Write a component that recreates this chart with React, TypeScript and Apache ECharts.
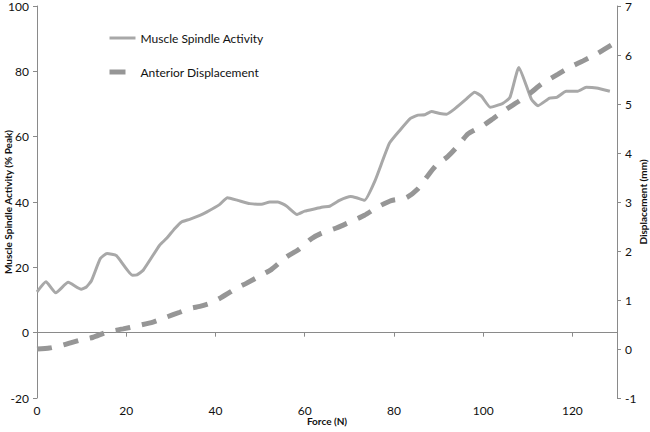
import React, { useEffect, useRef } from "react";
import * as echarts from "echarts";

const xTicks = [0, 20, 40, 60, 80, 100, 120];

const spindleForce = [0, 2, 4.2, 7, 9.9, 11, 12.2, 14.2, 15.7, 17.8, 21.4, 22.4, 23.8, 27.5, 29, 30.9, 32.4, 34.2, 36.5, 38, 40.9, 42.7, 45, 47.7, 50.3, 52.2, 54, 55.9, 58.3, 60, 62.6, 64.1, 65.6, 67.8, 70.3, 71.6, 73.4, 75.7, 79, 81.3, 83.7, 85.4, 86.9, 88.4, 90.3, 91.8, 93.6, 96.2, 98.1, 99.6, 101.6, 104.4, 106, 108, 110.8, 112.3, 114.9, 116.5, 118.6, 121.2, 123.1, 125.4, 128.4];
const spindleActivity = [12.5, 15.6, 12.2, 15.4, 13.3, 13.9, 15.9, 22.7, 24.2, 23.6, 17.6, 17.7, 19.1, 26.8, 28.8, 31.9, 33.9, 34.7, 35.9, 36.9, 39.2, 41.3, 40.5, 39.5, 39.3, 40, 40, 38.8, 36.2, 37.2, 38, 38.5, 38.7, 40.5, 41.7, 41.3, 40.5, 46.3, 58, 61.9, 65.6, 66.6, 66.7, 67.7, 67.1, 66.9, 68.5, 71.5, 73.6, 72.4, 69, 70.2, 72, 81.2, 71.5, 69.5, 71.8, 72, 73.9, 73.9, 75.1, 74.9, 73.9];

const dispForce = [0, 2.8, 5.8, 9.6, 12.6, 15.5, 19.3, 22.3, 26, 29, 32, 34.3, 36.5, 38.7, 40.9, 44.7, 46.9, 50.3, 52.5, 55.9, 58.5, 61.5, 63.7, 67.1, 70.1, 73.4, 76.4, 79.4, 82.8, 85.4, 87.3, 89.5, 92.1, 94.4, 96.6, 100, 102.2, 105.3, 107.9, 110.8, 113.1, 116.8, 119.4, 122.4, 125.4, 128.7];
const displacement = [0, 0.02, 0.08, 0.18, 0.24, 0.34, 0.41, 0.47, 0.55, 0.65, 0.75, 0.83, 0.87, 0.93, 1.03, 1.24, 1.34, 1.51, 1.62, 1.88, 2.02, 2.25, 2.36, 2.47, 2.59, 2.73, 2.9, 3.03, 3.09, 3.27, 3.5, 3.75, 3.93, 4.15, 4.39, 4.56, 4.7, 4.9, 5.05, 5.24, 5.41, 5.61, 5.75, 5.88, 6.02, 6.2];

const FONT = "Lato, 'Open Sans', sans-serif";

export default function App() {
  const ref = useRef<HTMLDivElement>(null);
  useEffect(() => {
    if (!ref.current) return;
    const chart = echarts.init(ref.current, undefined, { renderer: "svg" });
    const axisLine = { show: true, lineStyle: { color: "#8a8a8a", width: 1 } };
    const axisTick = { show: true, inside: false, length: 4, lineStyle: { color: "#8a8a8a" } };
    const label = { color: "#111", fontFamily: FONT, fontSize: 12 };
    const nameStyle = { color: "#111", fontFamily: FONT, fontSize: 10, fontWeight: "bold" as const };
    chart.setOption({
      animation: false,
      backgroundColor: "#fff",
      textStyle: { fontFamily: FONT },
      grid: { left: 37, right: 33, top: 6, bottom: 34, containLabel: false, outerBoundsMode: "none" },
      legend: {
        orient: "vertical",
        left: 107,
        top: 32,
        padding: 0,
        itemWidth: 26,
        itemHeight: 10,
        itemGap: 22,
        itemStyle: { opacity: 0 },
        textStyle: { color: "#111", fontFamily: FONT, fontSize: 12 },
        data: [
          { name: "Muscle Spindle Activity", lineStyle: { width: 3, color: "#a8a8a8" } },
          { name: "Anterior Displacement", lineStyle: { width: 5, color: "#969696", type: [16, 20] } },
        ],
      },
      xAxis: {
        type: "value",
        min: 0,
        max: 130,
        interval: 20,
        name: "Force (N)",
        nameLocation: "middle",
        nameGap: 18,
        nameMoveOverlap: false,
        nameTextStyle: nameStyle,
        axisLine,
        axisTick,
        splitLine: { show: false },
        axisLabel: {
          ...label,
          margin: 6,
          formatter: (v: number) => (xTicks.includes(v) ? String(v) : ""),
        },
      },
      yAxis: [
        {
          type: "value",
          min: -20,
          max: 100,
          interval: 20,
          name: "Muscle Spindle Activity (% Peak)",
          nameLocation: "middle",
          nameGap: 24,
          nameMoveOverlap: false,
          nameRotate: 90,
          nameTextStyle: nameStyle,
          axisLine,
          axisTick,
          splitLine: { show: false },
          axisLabel: { ...label, margin: 8 },
        },
        {
          type: "value",
          position: "right",
          min: -1,
          max: 7,
          interval: 1,
          name: "Displacement (mm)",
          nameLocation: "middle",
          nameGap: 21,
          nameMoveOverlap: false,
          nameRotate: 90,
          nameTextStyle: nameStyle,
          axisLine,
          axisTick,
          splitLine: { show: false },
          axisLabel: { ...label, margin: 8 },
        },
      ],
      series: [
        {
          name: "Muscle Spindle Activity",
          type: "line",
          yAxisIndex: 0,
          showSymbol: false,
          symbol: "none",
          smooth: 0.15,
          color: "#a8a8a8",
          lineStyle: { color: "#a8a8a8", width: 3 },
          data: spindleForce.map((f, i) => [f, spindleActivity[i]]),
        },
        {
          name: "Anterior Displacement",
          type: "line",
          yAxisIndex: 1,
          showSymbol: false,
          symbol: "none",
          smooth: 0.2,
          color: "#969696",
          lineStyle: { color: "#969696", width: 5, type: [15, 12] },
          data: dispForce.map((f, i) => [f, displacement[i]]),
        },
      ],
    });
    return () => chart.dispose();
  }, []);
  return (
    <div
      ref={ref}
      style={{ position: "absolute", left: 0, top: 0, width: 650, height: 432 }}
    />
  );
}
